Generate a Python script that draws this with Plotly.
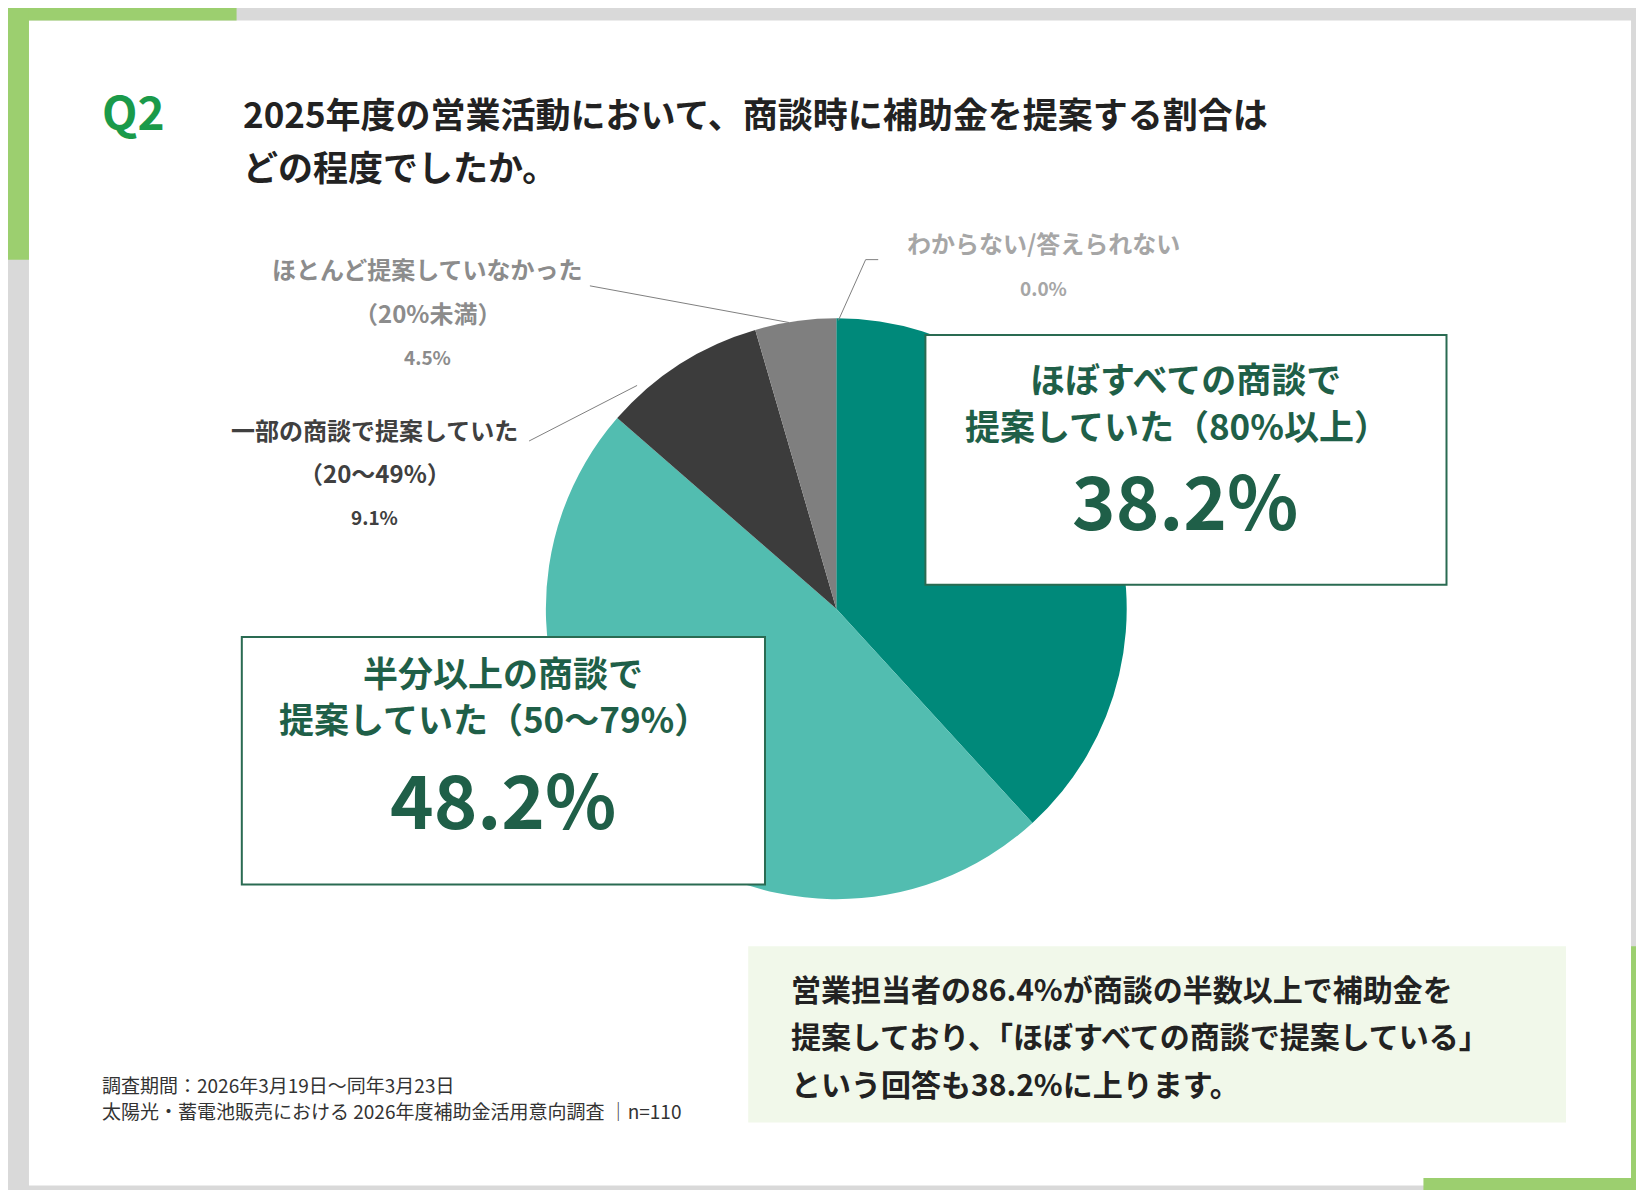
import plotly.graph_objects as go

labels = ["ほぼすべての商談で提案していた（80%以上）", "半分以上の商談で提案していた（50～79%）",
          "一部の商談で提案していた（20～49%）", "ほとんど提案していなかった（20%未満）", "わからない/答えられない"]
values = [38.2, 48.2, 9.1, 4.5, 0.0]
colors = ["#00897A", "#52BDB0", "#3C3C3C", "#7F7F7F", "#BFBFBF"]

W, H = 1568, 1135
def X(x): return x / W
def Y(y): return 1 - y / H

FONT = "Noto Sans CJK JP"
fig = go.Figure(go.Pie(labels=labels, values=values, marker=dict(colors=colors, line=dict(width=0)),
                       sort=False, direction="clockwise", rotation=0, textinfo="none",
                       hoverinfo="label+percent", showlegend=False,
                       domain=dict(x=[X(513), X(1067)], y=[Y(850), Y(296)])))

shapes = []
def rect(x0, y0, x1, y1, fill, line=None, lw=0, layer="below"):
    shapes.append(dict(type="rect", xref="paper", yref="paper", x0=X(x0), x1=X(x1), y0=Y(y1), y1=Y(y0),
                       fillcolor=fill, line=dict(color=line or fill, width=lw), layer=layer))
rect(0, 0, W, H, "#D9D9D9")
rect(20, 12, 1548, 1123, "#FFFFFF")
rect(0, 0, 218, 12, "#9CCF6F")
rect(0, 0, 20, 240, "#9CCF6F")
rect(1548, 895, 1568, 1135, "#9CCF6F")
rect(1350, 1116, 1568, 1135, "#9CCF6F")
rect(706, 895, 1486, 1063, "#F1F8EA")
rect(875, 312, 1372, 550, "#FFFFFF", "#2A6B52", 2, "above")
rect(223, 600, 722, 836, "#FFFFFF", "#2A6B52", 2, "above")

def line(pts):
    for (a, b), (c, d) in zip(pts[:-1], pts[1:]):
        shapes.append(dict(type="line", xref="paper", yref="paper", x0=X(a), y0=Y(b), x1=X(c), y1=Y(d),
                           line=dict(color="#808080", width=1)))
line([(555, 265), (745, 300)])
line([(497, 413), (600, 360)])
line([(830, 240), (818, 240), (792, 298)])

ann = []
def t(x, y, s, size, color="#222", bold=True, xa="center"):
    ann.append(dict(xref="paper", yref="paper", x=X(x), y=Y(y), text=f"<b>{s}</b>" if bold else s,
                    showarrow=False, xanchor=xa, yanchor="middle",
                    font=dict(family=FONT, size=size, color=color)))
t(88, 97, "Q2", 46, "#1A9A4A", xa="left")
t(222, 100, "2025年度の営業活動において、商談時に補助金を提案する割合は", 35, "#222", xa="left")
t(222, 150, "どの程度でしたか。", 35, "#222", xa="left")
t(988, 224, "わからない/答えられない", 24, "#A6A6A6")
t(988, 267, "0.0%", 19, "#A6A6A6")
t(400, 248, "ほとんど提案していなかった", 24, "#8C8C8C")
t(400, 290, "（20%未満）", 24, "#8C8C8C")
t(400, 332, "4.5%", 19, "#8C8C8C")
t(350, 402, "一部の商談で提案していた", 24, "#404040")
t(350, 443, "（20～49%）", 24, "#404040")
t(350, 485, "9.1%", 19, "#404040")
t(1123, 352, "ほぼすべての商談で", 35, "#1F5F48")
t(1115, 397, "提案していた（80%以上）", 35, "#1F5F48")
t(1123, 467, "38.2%", 74, "#1F5F48")
t(472, 633, "半分以上の商談で", 35, "#1F5F48")
t(464, 677, "提案していた（50～79%）", 35, "#1F5F48")
t(472, 752, "48.2%", 74, "#1F5F48")
t(745, 935, "営業担当者の86.4%が商談の半数以上で補助金を", 30, "#222", xa="left")
t(745, 980, "提案しており、「ほぼすべての商談で提案している」", 30, "#222", xa="left")
t(745, 1025, "という回答も38.2%に上ります。", 30, "#222", xa="left")
t(88, 1027, "調査期間：2026年3月19日～同年3月23日", 19, "#333", bold=False, xa="left")
t(88, 1052, "太陽光・蓄電池販売における 2026年度補助金活用意向調査 │n=110", 19, "#333", bold=False, xa="left")

fig.update_layout(width=1644, height=1190, margin=dict(l=0, r=0, t=0, b=0),
                  paper_bgcolor="#FFFFFF", shapes=shapes, annotations=ann, font=dict(family=FONT))
fig.write_html("out.html")
